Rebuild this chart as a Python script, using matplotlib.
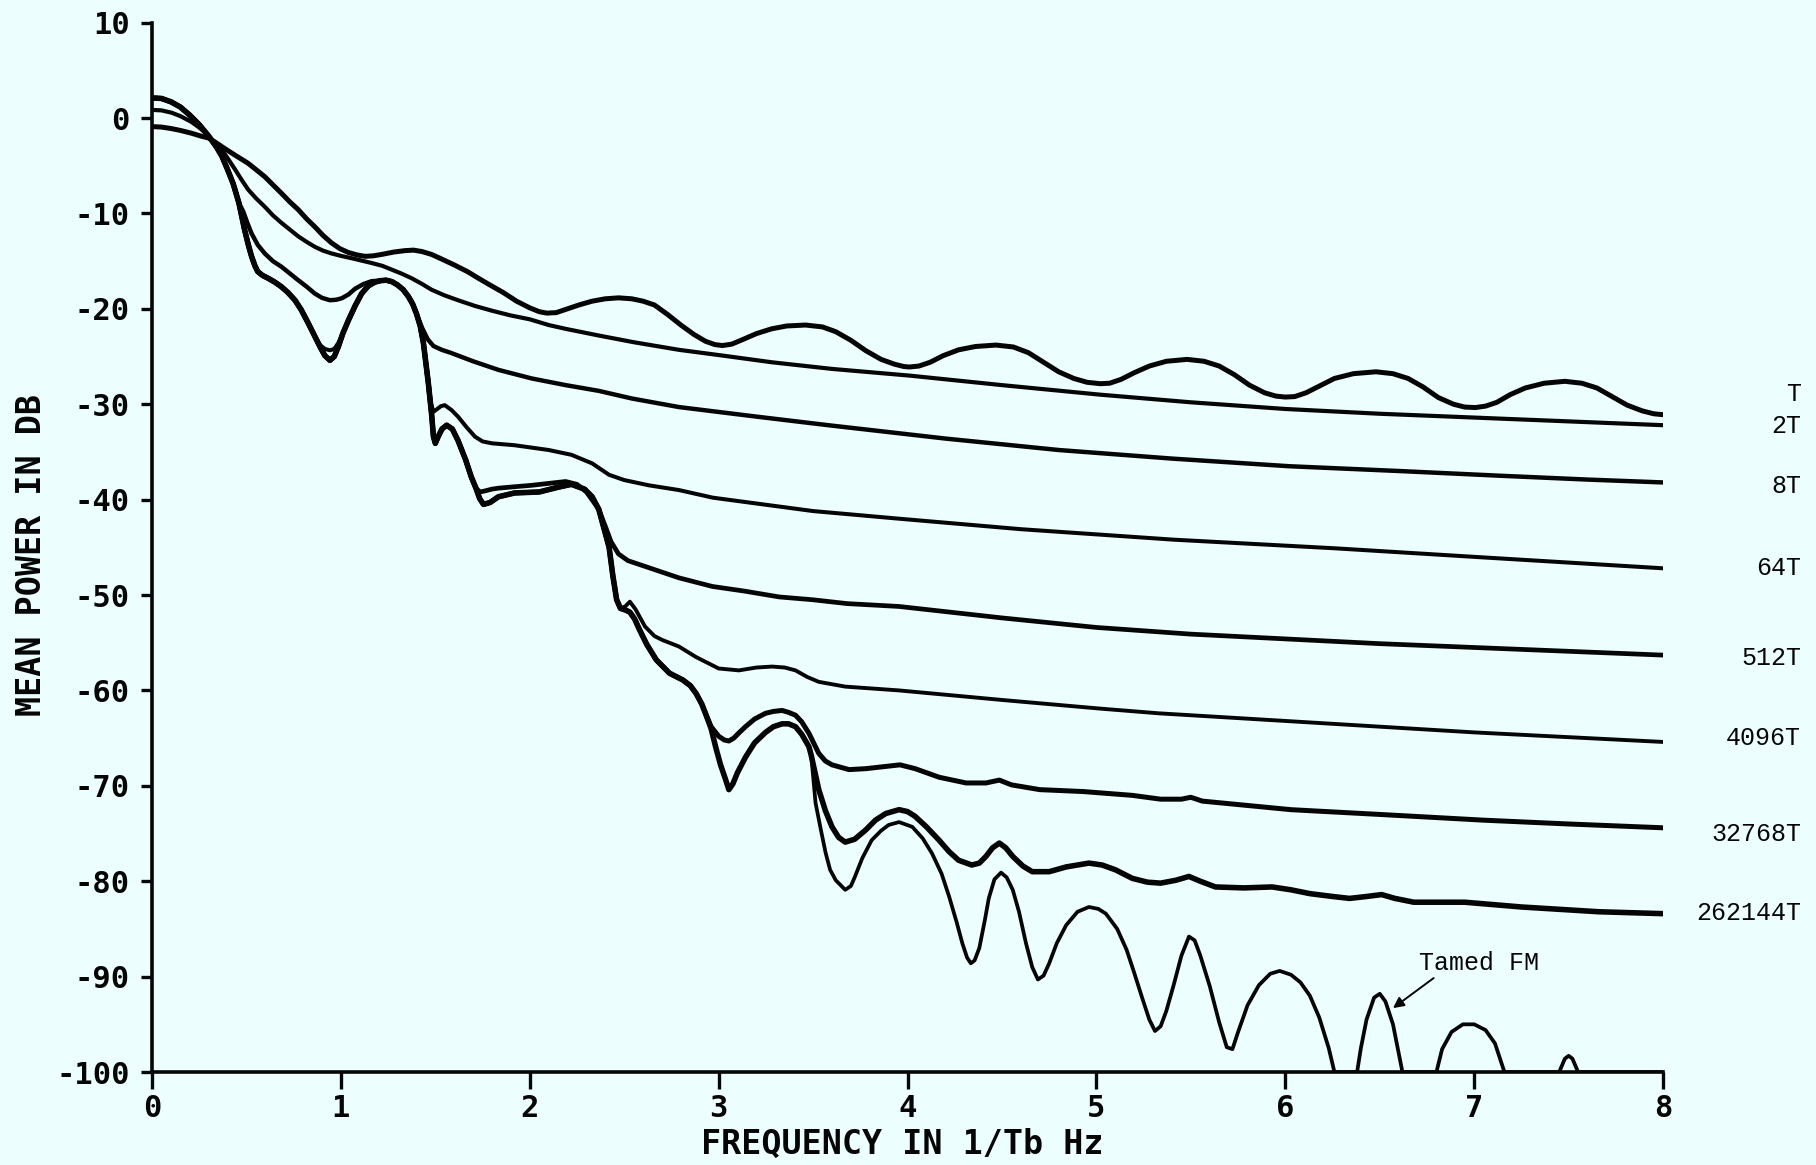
import matplotlib
matplotlib.use("Agg")
import matplotlib.pyplot as plt

BG = "#edfefe"
INK = "#050505"

# shared start of the 8T ... Tamed FM curves (f in 1/Tb, power in dB)
head_f = [0.00, 0.05, 0.10, 0.15, 0.20, 0.25, 0.30, 0.34, 0.37, 0.40, 0.43, 0.46]
head_db = [2.1, 2.05, 1.7, 1.15, 0.3, -0.7, -1.9, -3.0, -4.0, -5.4, -6.9, -8.9]

# thick bundle, first shoulder and dip
bundle_a1_f = [0.49, 0.51, 0.527, 0.545, 0.56, 0.585, 0.615, 0.65, 0.686, 0.72, 0.757, 0.79, 0.827, 0.86]
bundle_a1_db = [-11.7, -13.3, -14.5, -15.5, -16.1, -16.5, -16.8, -17.2, -17.7, -18.3, -19.1, -20.1, -21.5, -22.8]
dip_f = [0.89, 0.915, 0.942, 0.965, 0.986]
dip_thick_db = [-24.0, -24.9, -25.4, -25.0, -24.0]
dip_64t_db = [-23.8, -24.2, -24.35, -24.2, -23.6]
bundle_a2_f = [1.01, 1.04, 1.075, 1.11, 1.145, 1.18, 1.21, 1.24, 1.27, 1.30, 1.33, 1.357, 1.38, 1.40, 1.42, 1.437]
bundle_a2_db = [-22.6, -21.2, -19.7, -18.4, -17.6, -17.2, -17.05, -17.0, -17.15, -17.5, -18.0, -18.7, -19.5, -20.5, -21.8, -23.6]

bundle_b_f = [1.463, 1.48, 1.49, 1.50, 1.515, 1.535, 1.56, 1.59, 1.62, 1.66, 1.69, 1.715]
bundle_b_db = [-27.8, -31.0, -33.4, -34.1, -33.4, -32.6, -32.2, -32.6, -33.8, -35.8, -37.6, -38.8]

bundle_c_f = [1.735, 1.755, 1.79, 1.834, 1.92, 2.05, 2.15, 2.22, 2.29, 2.33, 2.365, 2.39, 2.42, 2.44, 2.46, 2.48]
bundle_c_db = [-39.9, -40.5, -40.3, -39.7, -39.3, -39.2, -38.7, -38.4, -38.9, -39.7, -41.0, -42.8, -45.0, -48.0, -50.5, -51.4]

bundle_d_f = [2.51, 2.53, 2.555, 2.58, 2.62, 2.67, 2.74, 2.81, 2.85, 2.88, 2.91, 2.93]
bundle_d_db = [-51.6, -51.8, -52.5, -53.6, -55.2, -56.8, -58.2, -58.9, -59.5, -60.3, -61.4, -62.4]

bundle_e_f = [2.96, 2.985, 3.01, 3.036, 3.054, 3.075, 3.10, 3.142, 3.19, 3.248, 3.29, 3.336, 3.37, 3.407, 3.44, 3.478, 3.49]
bundle_e_db = [-64.0, -66.0, -67.8, -69.3, -70.4, -69.8, -68.6, -67.0, -65.5, -64.4, -63.8, -63.5, -63.5, -63.8, -64.6, -65.9, -66.8]

# individual curves / tails
t_f = [0.00, 0.05, 0.10, 0.15, 0.21, 0.26, 0.30, 0.34, 0.385, 0.44, 0.509, 0.55, 0.597, 0.64, 0.686,
       0.73, 0.774, 0.82, 0.862, 0.905, 0.951, 0.995, 1.04, 1.085, 1.128, 1.17, 1.216, 1.28, 1.34,
       1.385, 1.43, 1.48, 1.53, 1.60, 1.67, 1.72, 1.78, 1.86, 1.93, 2.00, 2.05, 2.09, 2.14, 2.20,
       2.26, 2.33, 2.40, 2.47, 2.54, 2.60, 2.66, 2.73, 2.80, 2.87, 2.93, 2.98, 3.02, 3.07, 3.13,
       3.20, 3.28, 3.36, 3.46, 3.55, 3.62, 3.70, 3.78, 3.86, 3.93, 3.98, 4.01, 4.06, 4.12, 4.19,
       4.27, 4.36, 4.468, 4.56, 4.64, 4.72, 4.80, 4.88, 4.95, 5.02, 5.07, 5.13, 5.20, 5.28, 5.37,
       5.48, 5.57, 5.65, 5.73, 5.81, 5.89, 5.95, 6.00, 6.05, 6.11, 6.18, 6.26, 6.36, 6.48, 6.57,
       6.65, 6.73, 6.81, 6.89, 6.95, 7.006, 7.06, 7.12, 7.19, 7.27, 7.37, 7.48, 7.57, 7.65, 7.73,
       7.81, 7.89, 7.95, 8.00]
t_db = [-0.9, -0.95, -1.1, -1.3, -1.6, -1.9, -2.1, -2.6, -3.2, -3.9, -4.75, -5.4, -6.15, -7.0, -7.9,
        -8.8, -9.6, -10.6, -11.4, -12.3, -13.1, -13.7, -14.1, -14.35, -14.5, -14.45, -14.3, -14.05, -13.9,
        -13.85, -14.0, -14.3, -14.75, -15.4, -16.1, -16.7, -17.4, -18.3, -19.2, -19.9, -20.3, -20.45, -20.4, -20.0,
        -19.6, -19.2, -18.95, -18.85, -18.95, -19.2, -19.6, -20.6, -21.7, -22.7, -23.4, -23.75, -23.85, -23.7, -23.2,
        -22.6, -22.1, -21.8, -21.7, -21.9, -22.4, -23.3, -24.4, -25.3, -25.8, -26.05, -26.1, -26.0, -25.6, -24.9,
        -24.3, -23.95, -23.8, -24.0, -24.6, -25.6, -26.6, -27.3, -27.7, -27.85, -27.8, -27.4, -26.7, -26.0, -25.5,
        -25.3, -25.5, -26.0, -26.9, -28.0, -28.8, -29.15, -29.25, -29.2, -28.8, -28.1, -27.3, -26.8, -26.6, -26.8,
        -27.3, -28.2, -29.3, -30.0, -30.3, -30.35, -30.2, -29.8, -29.0, -28.3, -27.8, -27.6, -27.8, -28.3, -29.2,
        -30.1, -30.7, -31.0, -31.1]

t2_f = [0.00, 0.05, 0.103, 0.15, 0.208, 0.25, 0.297, 0.33, 0.368, 0.40, 0.44, 0.475, 0.509, 0.55, 0.597,
        0.64, 0.686, 0.73, 0.774, 0.82, 0.862, 0.905, 0.951, 1.00, 1.057, 1.11, 1.163, 1.22, 1.27, 1.32,
        1.375, 1.43, 1.48, 1.55, 1.62, 1.71, 1.80, 1.90, 2.00, 2.10, 2.19, 2.365, 2.55, 2.79, 3.02, 3.28,
        3.60, 4.01, 4.50, 5.02, 5.50, 6.00, 6.50, 7.00, 7.50, 8.00]
t2_db = [0.85, 0.8, 0.56, 0.2, -0.4, -1.0, -1.8, -2.6, -3.3, -4.2, -5.4, -6.5, -7.5, -8.4, -9.3,
         -10.2, -11.0, -11.7, -12.4, -13.0, -13.5, -13.9, -14.2, -14.45, -14.7, -14.95, -15.2, -15.5, -15.9, -16.3,
         -16.8, -17.4, -18.0, -18.6, -19.1, -19.7, -20.2, -20.7, -21.1, -21.7, -22.1, -22.8, -23.5, -24.3, -24.9, -25.6,
         -26.3, -27.0, -28.0, -29.0, -29.8, -30.5, -31.0, -31.4, -31.8, -32.2]

t8_f = [0.483, 0.505, 0.527, 0.56, 0.597, 0.64, 0.686, 0.73, 0.774, 0.82, 0.862, 0.90, 0.942, 0.975, 1.004,
        1.04, 1.075, 1.12, 1.163, 1.21, 1.24, 1.27, 1.30, 1.33, 1.357, 1.38, 1.40, 1.43, 1.46, 1.49, 1.534,
        1.58, 1.62, 1.70, 1.834, 2.01, 2.19, 2.365, 2.54, 2.79, 3.20, 3.58, 4.20, 4.80, 5.40, 6.02, 6.60,
        7.14, 7.60, 8.00]
t8_db = [-9.8, -11.0, -12.1, -13.3, -14.2, -15.0, -15.6, -16.3, -17.0, -17.7, -18.4, -18.85, -19.1, -19.05, -18.9,
         -18.5, -17.9, -17.4, -17.1, -17.05, -17.0, -17.15, -17.5, -18.0, -18.7, -19.5, -20.5, -22.0, -23.2, -23.9, -24.3,
         -24.6, -24.9, -25.5, -26.4, -27.3, -28.0, -28.6, -29.4, -30.3, -31.3, -32.2, -33.6, -34.8, -35.7, -36.5, -37.0,
         -37.5, -37.9, -38.2]

t64_f = [1.463, 1.475, 1.49, 1.51, 1.53, 1.55, 1.585, 1.62, 1.665, 1.71, 1.75, 1.80, 1.92, 2.10, 2.22, 2.33,
         2.42, 2.50, 2.63, 2.79, 2.97, 3.50, 3.955, 4.60, 5.41, 6.26, 7.00, 7.50, 8.00]
t64_db = [-27.5, -29.8, -30.8, -30.5, -30.2, -30.1, -30.6, -31.3, -32.4, -33.4, -33.9, -34.1, -34.3, -34.8, -35.3, -36.2,
          -37.4, -37.95, -38.5, -39.0, -39.8, -41.2, -42.0, -43.1, -44.2, -45.1, -46.0, -46.6, -47.2]

t512_f = [1.737, 1.76, 1.80, 1.834, 1.92, 2.01, 2.10, 2.19, 2.25, 2.30, 2.365, 2.40, 2.43, 2.47, 2.52, 2.61,
          2.79, 2.966, 3.14, 3.32, 3.50, 3.68, 3.955, 4.50, 5.00, 5.50, 6.00, 6.50, 7.00, 7.50, 8.00]
t512_db = [-39.2, -39.1, -38.9, -38.8, -38.65, -38.5, -38.3, -38.1, -38.4, -39.2, -41.0, -42.8, -44.4, -45.7, -46.4, -47.0,
           -48.2, -49.1, -49.6, -50.2, -50.5, -50.9, -51.2, -52.4, -53.4, -54.1, -54.6, -55.1, -55.5, -55.9, -56.3]

t4096_f = [2.505, 2.53, 2.56, 2.61, 2.66, 2.70, 2.79, 2.88, 3.00, 3.107, 3.20, 3.283, 3.35, 3.407, 3.47, 3.53,
           3.67, 3.955, 4.50, 5.016, 5.33, 6.00, 6.50, 7.00, 7.50, 8.00]
t4096_db = [-51.2, -50.7, -51.5, -53.3, -54.3, -54.7, -55.4, -56.5, -57.7, -57.9, -57.6, -57.5, -57.6, -57.9, -58.6, -59.1,
            -59.6, -60.0, -61.0, -61.9, -62.4, -63.2, -63.8, -64.4, -64.9, -65.4]

t32768_f = [2.96, 3.00, 3.03, 3.054, 3.08, 3.11, 3.142, 3.19, 3.248, 3.29, 3.336, 3.37, 3.407, 3.44, 3.478, 3.53,
            3.565, 3.60, 3.69, 3.78, 3.87, 3.96, 4.04, 4.167, 4.31, 4.415, 4.486, 4.55, 4.70, 4.93, 5.19, 5.34,
            5.45, 5.50, 5.56, 6.03, 6.50, 7.05, 7.50, 8.00]
t32768_db = [-63.8, -64.8, -65.2, -65.3, -65.0, -64.4, -63.8, -63.0, -62.4, -62.2, -62.1, -62.3, -62.6, -63.3, -64.5, -66.6,
             -67.4, -67.8, -68.3, -68.2, -68.0, -67.8, -68.2, -69.1, -69.7, -69.7, -69.4, -69.9, -70.4, -70.6, -71.0, -71.4,
             -71.4, -71.2, -71.6, -72.5, -73.0, -73.6, -74.0, -74.4]

t262144_f = [3.53, 3.565, 3.60, 3.635, 3.67, 3.72, 3.78, 3.83, 3.885, 3.955, 4.00, 4.04, 4.10, 4.167, 4.22, 4.27,
             4.34, 4.38, 4.415, 4.45, 4.486, 4.52, 4.557, 4.61, 4.66, 4.75, 4.84, 4.96, 5.03, 5.10, 5.19, 5.27,
             5.34, 5.42, 5.49, 5.55, 5.63, 5.78, 5.93, 6.03, 6.13, 6.25, 6.34, 6.43, 6.51, 6.58, 6.68, 6.95,
             7.25, 7.66, 8.00]
t262144_db = [-70.4, -72.6, -74.3, -75.4, -75.9, -75.6, -74.6, -73.6, -72.9, -72.5, -72.7, -73.2, -74.3, -75.7, -76.9, -77.8,
              -78.3, -78.1, -77.4, -76.5, -76.0, -76.5, -77.4, -78.4, -79.0, -79.0, -78.5, -78.1, -78.3, -78.8, -79.7, -80.1,
              -80.2, -79.9, -79.5, -80.0, -80.6, -80.7, -80.6, -80.9, -81.3, -81.6, -81.8, -81.6, -81.4, -81.8, -82.2, -82.2,
              -82.7, -83.2, -83.4]

tamed_f = [3.513, 3.54, 3.566, 3.59, 3.62, 3.67, 3.70, 3.72, 3.76, 3.81, 3.86, 3.90, 3.955, 4.025, 4.08, 4.13,
           4.18, 4.22, 4.26, 4.29, 4.315, 4.335, 4.355, 4.38, 4.41, 4.43, 4.46, 4.495, 4.525, 4.557, 4.59, 4.627,
           4.66, 4.69, 4.72, 4.75, 4.79, 4.84, 4.90, 4.96, 5.01, 5.05, 5.11, 5.16, 5.20, 5.245, 5.28, 5.31,
           5.34, 5.37, 5.41, 5.45, 5.49, 5.52, 5.55, 5.60, 5.65, 5.69, 5.72, 5.75, 5.80, 5.86, 5.92, 5.97,
           6.03, 6.08, 6.13, 6.18, 6.23, 6.26, 6.38, 6.40, 6.43, 6.47, 6.50, 6.53, 6.57, 6.60, 6.62, 6.80,
           6.83, 6.88, 6.94, 7.00, 7.06, 7.11, 7.16, 7.45, 7.48, 7.50, 7.52, 7.55, 8.00]
tamed_db = [-71.8, -74.5, -77.0, -78.8, -79.9, -80.9, -80.5, -79.6, -77.6, -75.7, -74.7, -74.1, -73.8, -74.3, -75.5, -77.1,
            -79.2, -81.6, -84.3, -86.5, -88.0, -88.6, -88.3, -87.0, -84.0, -81.8, -79.8, -79.1, -79.6, -80.9, -83.2, -86.5,
            -89.0, -90.3, -89.9, -88.6, -86.5, -84.6, -83.2, -82.7, -82.9, -83.4, -85.0, -87.2, -89.6, -92.4, -94.5, -95.7,
            -95.2, -93.6, -90.8, -87.8, -85.8, -86.2, -87.8, -91.0, -94.8, -97.4, -97.6, -95.8, -93.0, -90.9, -89.7, -89.4,
            -89.8, -90.6, -92.0, -94.3, -97.5, -100, -100, -97.5, -94.5, -92.2, -91.8, -92.6, -95.0, -98.0, -100, -100,
            -97.6, -95.8, -95.0, -95.0, -95.6, -97.0, -100, -100, -98.6, -98.3, -98.6, -100, -100]

labels = ["T", "2T", "8T", "64T", "512T", "4096T", "32768T", "262144T"]
label_y = [-28.9, -32.3, -38.6, -47.2, -56.6, -65.0, -75.0, -83.3]
x_ticks = [0, 1, 2, 3, 4, 5, 6, 7, 8]
y_ticks = [-100, -90, -80, -70, -60, -50, -40, -30, -20, -10, 0, 10]


def join(*parts):
    f, db = [], []
    for pf, pd in parts:
        f += list(pf)
        db += list(pd)
    return f, db


head = (head_f, head_db)
a1 = (bundle_a1_f, bundle_a1_db)
a2 = (bundle_a2_f, bundle_a2_db)
dip_thick = (dip_f, dip_thick_db)
to_b = join(head, a1, dip_thick, a2, (bundle_b_f, bundle_b_db))
to_c = join(to_b, (bundle_c_f, bundle_c_db))
to_d = join(to_c, (bundle_d_f, bundle_d_db))
to_e = join(to_d, (bundle_e_f, bundle_e_db))

curves = [
    ((t_f, t_db), 3.6),
    ((t2_f, t2_db), 3.0),
    (join(head, (t8_f, t8_db)), 3.2),
    (join(head, a1, (dip_f, dip_64t_db), a2, (t64_f, t64_db)), 2.9),
    (join(to_b, (t512_f, t512_db)), 3.4),
    (join(to_c, (t4096_f, t4096_db)), 2.8),
    (join(to_d, (t32768_f, t32768_db)), 3.6),
    (join(to_e, (t262144_f, t262144_db)), 4.0),
    (join(to_e, (tamed_f, tamed_db)), 2.7),
]

fig = plt.figure(figsize=(18.16, 11.65), dpi=100, facecolor=BG)
ax = fig.add_axes([0.0837, 0.0798, 0.8321, 0.9008])
ax.set_facecolor(BG)

for (f, db), lw in curves:
    ax.plot(f, db, color=INK, lw=lw, solid_joinstyle="round", solid_capstyle="round")

ax.set_xlim(0, 8)
ax.set_ylim(-100, 10)
for s in ("top", "right"):
    ax.spines[s].set_visible(False)
for s in ("left", "bottom"):
    ax.spines[s].set_linewidth(2.6)
    ax.spines[s].set_color(INK)

tick_font = dict(family="DejaVu Sans Mono", weight="bold", size=22)
ax.set_xticks(x_ticks)
ax.set_xticklabels([str(v) for v in x_ticks], **tick_font)
ax.set_yticks(y_ticks)
ax.set_yticklabels([str(v) for v in y_ticks], **tick_font)
ax.tick_params(axis="x", direction="out", length=12, width=2.4, pad=4, colors=INK)
ax.tick_params(axis="y", direction="out", length=8, width=2.4, pad=8, colors=INK)

lab_font = dict(family="DejaVu Sans Mono", weight="bold", size=24, color=INK)
fig.text(0.4967, 0.018, "FREQUENCY IN 1/Tb Hz", ha="center", va="center", **lab_font)
fig.text(0.0171, 0.524, "MEAN POWER IN DB", ha="center", va="center", rotation=90, **lab_font)

for name, y in zip(labels, label_y):
    ax.text(8.73, y, name, ha="right", va="center", family="Liberation Mono",
            size=18, color=INK, clip_on=False)

ax.annotate("Tamed FM", xy=(6.57, -93.3), xytext=(6.71, -88.6), ha="left", va="center",
            family="Liberation Mono", size=18, color=INK,
            arrowprops=dict(arrowstyle="-|>", color=INK, lw=1.4, mutation_scale=16,
                            shrinkA=0, shrinkB=0, relpos=(0.15, 0.0)))

fig.savefig("out.png", dpi=100, facecolor=BG)
